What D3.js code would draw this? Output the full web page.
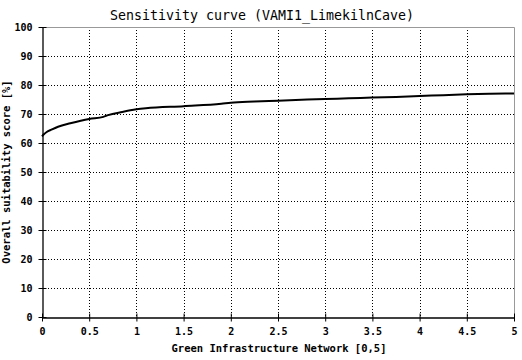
<!DOCTYPE html>
<html><head><meta charset="utf-8">
<script src="https://cdn.jsdelivr.net/npm/d3@7"></script>
<style>body{margin:0;background:#fff}svg{display:block}</style>
</head><body>
<script>
const titleText = "Sensitivity curve (VAMI1_LimekilnCave)";
const xLabel = "Green Infrastructure Network [0,5]";
const yLabel = "Overall suitability score [%]";
const xTicks = [0, 0.5, 1, 1.5, 2, 2.5, 3, 3.5, 4, 4.5, 5];
const yTicks = [0, 10, 20, 30, 40, 50, 60, 70, 80, 90, 100];
const xValues = [0, 0.02, 0.05, 0.1, 0.17, 0.3, 0.5, 0.65, 0.7, 0.85, 1.0, 1.1, 1.5, 1.9, 2.0, 2.25, 2.5, 2.75, 3.0, 3.25, 3.5, 3.75, 4.0, 4.25, 4.5, 4.75, 5.0];
const yValues = [62.3, 63.0, 63.8, 64.6, 65.6, 66.8, 68.3, 69.0, 69.6, 70.7, 71.6, 72.0, 72.7, 73.5, 73.9, 74.3, 74.6, 74.9, 75.2, 75.4, 75.7, 75.9, 76.2, 76.5, 76.8, 77.0, 77.1];

const W = 522, H = 360;
const m = {left: 42, right: 8, top: 27, bottom: 43};
const svg = d3.select("body").append("svg").attr("width", W).attr("height", H)
  .style("font-family", "'DejaVu Sans Mono', monospace");
const x = d3.scaleLinear().domain([0, 5]).range([m.left, W - m.right]);
const y = d3.scaleLinear().domain([0, 100]).range([H - m.bottom, m.top]);

// grid
svg.append("g").selectAll("line").data(xTicks.slice(1, -1)).join("line")
  .attr("x1", d => Math.round(x(d)) + 0.5).attr("x2", d => Math.round(x(d)) + 0.5)
  .attr("y1", y(100)).attr("y2", y(0))
  .attr("stroke", "#000").attr("stroke-dasharray", "1,2");
svg.append("g").selectAll("line").data(yTicks.slice(1, -1)).join("line")
  .attr("y1", d => Math.round(y(d)) + 0.5).attr("y2", d => Math.round(y(d)) + 0.5)
  .attr("x1", x(0)).attr("x2", x(5))
  .attr("stroke", "#000").attr("stroke-dasharray", "1,2");

// border top/right
svg.append("path")
  .attr("d", `M${x(0)},${Math.round(y(100)) + 0.5}H${Math.round(x(5)) + 0.5}V${y(0)}`)
  .attr("fill", "none").attr("stroke", "#999");

// axes
const xAxis = d3.axisBottom(x).tickValues(xTicks).tickSizeInner(4).tickSizeOuter(0)
  .tickFormat(d => String(d)).tickPadding(6);
const gx = svg.append("g").attr("transform", `translate(0,${Math.round(y(0)) + 0.5})`).call(xAxis);
gx.selectAll(".tick line").attr("y1", -4);
const yAxis = d3.axisLeft(y).tickValues(yTicks).tickSizeInner(4).tickSizeOuter(0).tickPadding(6);
const gy = svg.append("g").attr("transform", `translate(${Math.round(x(0)) + 0.5},0)`).call(yAxis);
gy.selectAll(".tick line").attr("x1", 4);
svg.selectAll(".domain").attr("stroke", "#000").attr("stroke-width", 1.3);
svg.selectAll(".tick text").style("font-family", "'DejaVu Sans Mono', monospace")
  .style("font-size", "10px").style("font-weight", "bold").attr("fill", "#000");
gy.selectAll(".tick text").attr("x", -10);

// curve
svg.append("path").datum(d3.range(xValues.length))
  .attr("d", d3.line().x(i => x(xValues[i])).y(i => y(yValues[i])).curve(d3.curveMonotoneX))
  .attr("fill", "none").attr("stroke", "#000").attr("stroke-width", 2);

// labels
svg.append("text").attr("x", 262).attr("y", 20).attr("text-anchor", "middle")
  .style("font-size", "13.3px").text(titleText);
svg.append("text").attr("x", 279).attr("y", 352).attr("text-anchor", "middle")
  .style("font-size", "10.5px").style("font-weight", "bold").text(xLabel);
svg.append("text").attr("transform", `translate(10,${(y(0) + y(100)) / 2 + 0}) rotate(-90)`)
  .attr("text-anchor", "middle")
  .style("font-size", "10.5px").style("font-weight", "bold").text(yLabel);
</script>
</body></html>
